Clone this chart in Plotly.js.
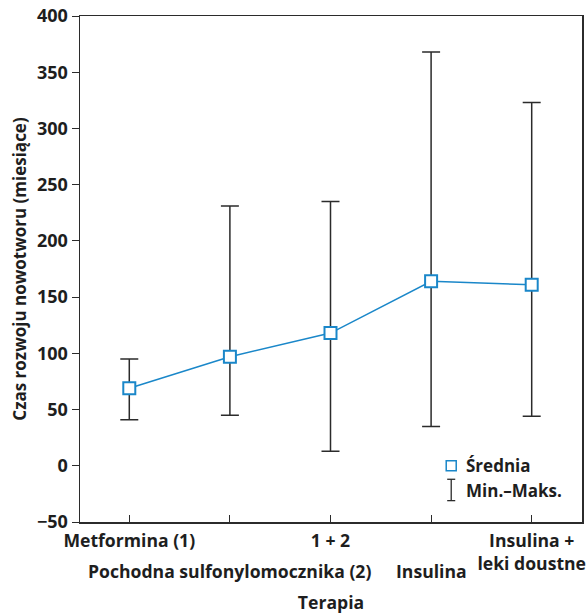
<!DOCTYPE html>
<html>
<head>
<meta charset="utf-8">
<script src="https://cdn.plot.ly/plotly-3.0.1.min.js"></script>
<style>html,body{margin:0;padding:0;background:#fff;}#chart{width:587px;height:614px;}</style>
</head>
<body>
<div id="chart"></div>
<script>
var categories = ["Metformina (1)", "Pochodna sulfonylomocznika (2)", "1 + 2", "Insulina", "Insulina + leki doustne"];
var topRowLabels = ["Metformina (1)", "", "1 + 2", "", "Insulina +<br>leki doustne"];
var lowRowLabels = ["", "Pochodna sulfonylomocznika (2)", "", "Insulina", ""];
var means = [69, 97, 118, 164, 161];
var mins = [41, 45, 13, 35, 44];
var maxs = [95, 231, 235, 368, 323];
var yTicks = [-50, 0, 50, 100, 150, 200, 250, 300, 350, 400];

var xIdx = categories.map(function(c, i){ return i; });
var plus = maxs.map(function(v, i){ return v - means[i]; });
var minus = mins.map(function(v, i){ return means[i] - v; });

var FONT = "Open Sans, Liberation Sans, sans-serif";
var BLUE = "#1a87c9";
var DARK = "#2b2b2b";
var TXT = "#1e1e1e";
var W = 700;
var FS = 17.6;

var traces = [{
  type: "scatter",
  mode: "lines+markers",
  x: xIdx,
  y: means,
  line: {color: BLUE, width: 1.5},
  marker: {symbol: "square", size: 12, color: "#ffffff", line: {color: BLUE, width: 2}},
  error_y: {type: "data", symmetric: false, array: plus, arrayminus: minus, color: DARK, thickness: 1.5, width: 9},
  showlegend: false,
  hoverinfo: "skip"
}, {
  type: "scatter",
  mode: "markers",
  x: [3.2],
  y: [0],
  marker: {symbol: "square", size: 10, color: "#ffffff", line: {color: BLUE, width: 1.5}},
  showlegend: false,
  hoverinfo: "skip"
}];

var annotations = [
  {xref: "x", yref: "y", x: 3.33, y: 0, text: "Średnia", showarrow: false, xanchor: "left", yanchor: "middle", font: {family: FONT, size: 17, color: TXT, weight: W}},
  {xref: "x", yref: "y", x: 3.33, y: -22, text: "Min.–Maks.", showarrow: false, xanchor: "left", yanchor: "middle", font: {family: FONT, size: 17, color: TXT, weight: W}}
];
lowRowLabels.forEach(function(t, i){
  if (!t) return;
  annotations.push({xref: "x", yref: "y", x: xIdx[i], y: -50, yshift: -49, text: t, showarrow: false,
    xanchor: "center", yanchor: "middle", font: {family: FONT, size: FS, color: TXT, weight: W}});
});

var layout = {
  width: 587, height: 614,
  margin: {l: 80, r: 5, t: 16, b: 92},
  paper_bgcolor: "#fff", plot_bgcolor: "#fff",
  font: {family: FONT, size: 17, color: TXT, weight: W},
  showlegend: false,
  xaxis: {
    range: [-0.49, 4.5],
    tickmode: "array",
    tickvals: xIdx,
    ticktext: topRowLabels,
    tickangle: 0,
    automargin: false,
    ticklabelstandoff: 2,
    ticks: "inside", ticklen: 7, tickwidth: 1, tickcolor: DARK,
    showline: true, linecolor: DARK, linewidth: 1.5, mirror: true,
    showgrid: false, zeroline: false,
    tickfont: {family: FONT, size: FS, color: TXT, weight: W},
    title: {text: "Terapia", font: {family: FONT, size: FS, color: TXT, weight: W}, standoff: 27}
  },
  yaxis: {
    range: [-50, 400],
    tickmode: "array",
    tickvals: yTicks,
    ticks: "outside", ticklen: 7, tickwidth: 1, tickcolor: DARK,
    showline: true, linecolor: DARK, linewidth: 1.5, mirror: true,
    showgrid: false, zeroline: false,
    automargin: false,
    tickformat: "d",
    tickfont: {family: FONT, size: 18, color: TXT, weight: W},
    title: {text: "Czas rozwoju nowotworu (miesiące)", font: {family: FONT, size: 17, color: TXT, weight: W}, standoff: 6}
  },
  shapes: [
    {type: "line", xref: "x", yref: "y", x0: 3.2, x1: 3.2, y0: -31, y1: -12, line: {color: DARK, width: 1.3}},
    {type: "line", xref: "x", yref: "y", x0: 3.16, x1: 3.24, y0: -31, y1: -31, line: {color: DARK, width: 1.3}},
    {type: "line", xref: "x", yref: "y", x0: 3.16, x1: 3.24, y0: -12, y1: -12, line: {color: DARK, width: 1.3}}
  ],
  annotations: annotations
};

Plotly.newPlot("chart", traces, layout, {displayModeBar: false, staticPlot: true});
</script>
</body>
</html>
